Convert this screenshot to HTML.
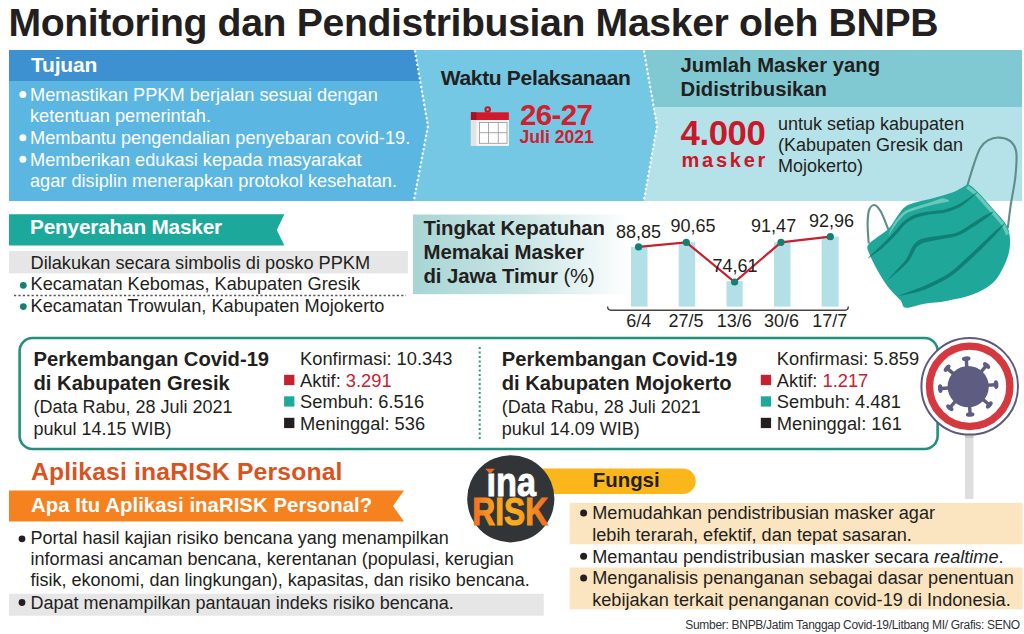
<!DOCTYPE html>
<html><head><meta charset="utf-8"><style>
html,body{margin:0;padding:0;}
body{width:1024px;height:634px;position:relative;overflow:hidden;background:#fff;font-family:"Liberation Sans",sans-serif;}
.t{position:absolute;white-space:nowrap;}
</style></head><body>
<svg width="1024" height="634" viewBox="0 0 1024 634" style="position:absolute;left:0;top:0"><polygon points="9,50 415,50 428,126 414,201 9,201" fill="#5cb6e2"/><polygon points="9,50 415,50 420.3,81 9,81" fill="#3d91d1"/><polygon points="415,50 644,50 657,126 644,201 414,201 428,126" fill="#74c8e3"/><polygon points="644,50 1022,50 1022,201 644,201 657,126" fill="#b5e1e8"/><polygon points="644,50 1022,50 1022,107 653.8,107" fill="#80c9d3"/><polyline points="415,51.5 428,126 414,200" fill="none" stroke="#fff" stroke-width="2.5" stroke-linecap="round" stroke-dasharray="0.01,4.5"/><polyline points="644,51.5 657,126 644,200" fill="none" stroke="#fff" stroke-width="2.5" stroke-linecap="round" stroke-dasharray="0.01,4.5"/><polygon points="9,214.3 284.4,214.3 276.8,230 284.4,245.5 9,245.5" fill="#1ca99b"/><rect x="9" y="251.1" width="398.9" height="22.3" fill="#e6e6e6"/><circle cx="23.3" cy="285.3" r="3.4" fill="#15806f"/><circle cx="23.3" cy="306.6" r="3.4" fill="#15806f"/><line x1="14" y1="295.5" x2="406" y2="295.5" stroke="#555" stroke-width="1.3" stroke-dasharray="2.2,2.2"/><defs><linearGradient id="tg" x1="0" x2="1" y1="0" y2="0"><stop offset="0" stop-color="#a7d5d4"/><stop offset="0.5" stop-color="#c8e5e4"/><stop offset="0.85" stop-color="#eef7f7"/><stop offset="1" stop-color="#ffffff"/></linearGradient></defs><rect x="413" y="214.5" width="217" height="79.7" fill="url(#tg)"/><rect x="631" y="246.9" width="16.5" height="59.70000000000002" fill="#b3dfe6"/><rect x="678.7" y="242.3" width="16.5" height="64.30000000000001" fill="#b3dfe6"/><rect x="726.5" y="281.2" width="16.200000000000045" height="25.400000000000034" fill="#b3dfe6"/><rect x="774" y="242.3" width="16.5" height="64.30000000000001" fill="#b3dfe6"/><rect x="821.7" y="236.7" width="17.0" height="69.90000000000003" fill="#b3dfe6"/><polyline points="638.6,246.9 686.3,242.3 734.6,282 781,242.3 830.3,236.7" fill="none" stroke="#c9202f" stroke-width="2.2"/><circle cx="638.6" cy="246.9" r="3.6" fill="#14806f"/><circle cx="686.3" cy="242.3" r="3.6" fill="#14806f"/><circle cx="734.6" cy="282" r="3.6" fill="#14806f"/><circle cx="781" cy="242.3" r="3.6" fill="#14806f"/><circle cx="830.3" cy="236.7" r="3.6" fill="#14806f"/><path d="M607.6,306.5 Q607.6,310.2 611,310.2 L845,310.2 Q848.3,310.2 848.3,306.5" fill="none" stroke="#444" stroke-width="1.4"/><rect x="19.6" y="338" width="918" height="111" rx="13" ry="13" fill="#fff" stroke="#21917e" stroke-width="2.6"/><line x1="479.7" y1="347" x2="479.7" y2="441" stroke="#2a9a86" stroke-width="2" stroke-dasharray="2,2.5"/><rect x="284.1" y="374.8" width="10.3" height="10.3" fill="#c8202f"/><rect x="284.1" y="396.3" width="10.3" height="10.3" fill="#1fa99b"/><rect x="284.1" y="417.8" width="10.3" height="10.3" fill="#231f20"/><rect x="760.8" y="374.8" width="10.3" height="10.3" fill="#c8202f"/><rect x="760.8" y="396.3" width="10.3" height="10.3" fill="#1fa99b"/><rect x="760.8" y="417.8" width="10.3" height="10.3" fill="#231f20"/><rect x="965" y="432" width="8.5" height="67" fill="#dedede"/><rect x="965" y="432" width="8.5" height="6" fill="#c8c8c8"/><circle cx="969.7" cy="386.3" r="48.3" fill="#fff" stroke="#5d5a7e" stroke-width="2"/><circle cx="969.7" cy="386.3" r="40.2" fill="none" stroke="#d5393f" stroke-width="7.4"/><circle cx="968.2" cy="386.6" r="20.6" fill="#5f5c82"/><line x1="967.0" y1="369.6" x2="966.3" y2="359.7" stroke="#5f5c82" stroke-width="3.4"/><ellipse cx="966.2" cy="358.7" rx="2.3" ry="4.3" transform="rotate(-94.0 966.2 358.7)" fill="#5f5c82"/><line x1="979.4" y1="373.8" x2="985.9" y2="366.2" stroke="#5f5c82" stroke-width="3.4"/><ellipse cx="986.6" cy="365.5" rx="2.3" ry="4.3" transform="rotate(-49.0 986.6 365.5)" fill="#5f5c82"/><line x1="985.2" y1="385.4" x2="995.1" y2="384.7" stroke="#5f5c82" stroke-width="3.4"/><ellipse cx="996.1" cy="384.6" rx="2.3" ry="4.3" transform="rotate(-4.0 996.1 384.6)" fill="#5f5c82"/><line x1="981.0" y1="397.8" x2="988.6" y2="404.3" stroke="#5f5c82" stroke-width="3.4"/><ellipse cx="989.3" cy="405.0" rx="2.3" ry="4.3" transform="rotate(41.0 989.3 405.0)" fill="#5f5c82"/><line x1="969.4" y1="403.6" x2="970.1" y2="413.5" stroke="#5f5c82" stroke-width="3.4"/><ellipse cx="970.2" cy="414.5" rx="2.3" ry="4.3" transform="rotate(86.0 970.2 414.5)" fill="#5f5c82"/><line x1="957.0" y1="399.4" x2="950.5" y2="407.0" stroke="#5f5c82" stroke-width="3.4"/><ellipse cx="949.8" cy="407.7" rx="2.3" ry="4.3" transform="rotate(131.0 949.8 407.7)" fill="#5f5c82"/><line x1="951.2" y1="387.8" x2="941.3" y2="388.5" stroke="#5f5c82" stroke-width="3.4"/><ellipse cx="940.3" cy="388.6" rx="2.3" ry="4.3" transform="rotate(176.0 940.3 388.6)" fill="#5f5c82"/><line x1="955.4" y1="375.4" x2="947.8" y2="368.9" stroke="#5f5c82" stroke-width="3.4"/><ellipse cx="947.1" cy="368.2" rx="2.3" ry="4.3" transform="rotate(221.0 947.1 368.2)" fill="#5f5c82"/><polygon points="9,490.4 404,490.4 393,506 404,521.5 9,521.5" fill="#f6811f"/><rect x="9" y="593.7" width="534.7" height="22" fill="#e6e6e6"/><circle cx="22" cy="538.8" r="3.4" fill="#231f20"/><circle cx="22" cy="602.5" r="3.4" fill="#231f20"/><path d="M505,468.6 L683,468.6 A12.7,12.7 0 0 1 683,494 L505,494 Z" fill="#fab61b"/><rect x="569.6" y="502.9" width="453" height="41.4" fill="#fbe4c0"/><rect x="569.6" y="567.5" width="453" height="41.8" fill="#fbe4c0"/><circle cx="583.6" cy="513" r="3.5" fill="#231f20"/><circle cx="583.6" cy="556.2" r="3.5" fill="#231f20"/><circle cx="583.6" cy="578" r="3.5" fill="#231f20"/><circle cx="510.8" cy="498.8" r="43.6" fill="#323537"/><circle cx="22.9" cy="94.5" r="3.5" fill="#fff"/><circle cx="22.9" cy="137.7" r="3.5" fill="#fff"/><circle cx="22.9" cy="159.3" r="3.5" fill="#fff"/><rect x="470.9" y="112.2" width="38" height="33.7" fill="#f7f7f7"/><rect x="470.9" y="119.8" width="5.5" height="26.1" fill="#e3e3e3"/><rect x="470.9" y="112.2" width="38" height="7.8" fill="#d0192b"/><rect x="470.9" y="112.2" width="5.5" height="7.8" fill="#a8121f"/><circle cx="487.7" cy="109.4" r="2.2" fill="none" stroke="#c4182a" stroke-width="2.1"/><rect x="479.4" y="122.5" width="27.6" height="20.8" fill="#fdfdfd" stroke="#999" stroke-width="0.85"/><line x1="488.5" y1="122.5" x2="488.5" y2="143.3" stroke="#999" stroke-width="0.85"/><line x1="498.3" y1="122.5" x2="498.3" y2="143.3" stroke="#999" stroke-width="0.85"/><line x1="479.4" y1="132.7" x2="507" y2="132.7" stroke="#999" stroke-width="0.85"/><path d="M888.3,229.3 C887.1,226.5 883.4,216.3 881.2,212.3 C879.0,208.3 877.0,205.7 875.0,205.2 C873.0,204.7 870.5,206.4 869.3,209.5 C868.1,212.6 867.7,218.0 867.6,223.7 C867.5,229.3 868.5,240.2 868.7,243.5" fill="none" stroke="#5f8d89" stroke-width="2.1"/><path d="M967.5,185.0 C968.7,181.2 972.5,168.4 974.6,162.2 C976.7,156.0 978.1,151.6 980.3,148.0 C982.5,144.4 984.8,142.1 987.9,140.4 C991.0,138.7 995.4,137.4 999.2,137.6 C1003.0,137.8 1007.8,138.9 1010.6,141.4 C1013.5,143.9 1015.5,146.7 1016.3,152.7 C1017.1,158.7 1016.2,168.5 1015.3,177.3 C1014.3,186.2 1011.9,197.4 1010.6,205.8 C1009.4,214.2 1008.3,224.3 1007.8,228.0" fill="none" stroke="#5f8d89" stroke-width="2.1"/><path d="M867.8,245.6 C869.1,242.6 874.3,239.7 877.9,236.8 C881.5,233.9 885.9,231.6 889.2,228.0 C892.6,224.4 895.3,218.9 898.0,215.3 C900.7,211.7 902.4,208.7 905.6,206.5 C908.8,204.3 912.1,203.6 917.0,202.1 C921.9,200.6 928.8,199.3 934.7,197.7 C940.6,196.1 947.2,194.5 952.3,192.6 C957.3,190.7 962.3,187.3 965.0,186.0 C967.7,184.7 966.3,183.4 968.5,184.5 C970.7,185.6 974.2,188.3 978.4,192.5 C982.6,196.7 989.2,204.4 993.6,209.5 C998.0,214.6 1002.3,218.9 1004.9,222.8 C1007.5,226.7 1008.5,228.6 1009.3,233.0 C1010.1,237.4 1010.4,243.7 1009.5,249.2 C1008.6,254.8 1006.7,260.6 1003.8,266.2 C1001.0,271.9 997.7,278.5 992.5,283.3 C987.3,288.0 980.3,291.7 972.6,294.6 C965.0,297.6 954.6,299.4 946.5,300.9 C938.5,302.4 931.2,302.6 924.4,303.7 C917.6,304.9 909.6,308.3 905.6,307.7 C901.7,307.1 903.2,303.4 900.5,300.3 C897.9,297.2 893.4,293.7 889.7,289.0 C886.0,284.2 881.7,277.6 878.4,271.9 C875.1,266.2 871.6,259.3 869.9,254.9 C868.1,250.5 866.5,248.6 867.8,245.6 Z" fill="#1fa79a"/><path d="M967.2,186.8 L977,194.6 L992.2,211.6 L1003.6,225 L1007.6,234.5" fill="none" stroke="#6ac7bc" stroke-width="3.4" stroke-linejoin="round"/><path d="M869.8,257.3 C871.7,256.0 880.4,249.8 884.0,246.7 C887.6,243.6 893.8,237.1 896.7,234.1 C899.5,231.1 903.0,226.2 905.4,224.1 C907.9,222.0 912.2,219.3 915.1,218.1 C918.0,216.9 923.3,215.7 927.3,215.0 C931.3,214.2 940.7,213.7 945.2,212.6 C949.6,211.4 956.6,209.0 960.7,206.5 C964.9,204.0 974.5,195.3 976.5,193.5 C978.6,191.7 978.4,191.5 976.1,192.9 C973.8,194.3 963.5,201.7 959.3,203.9 C955.0,206.1 948.8,208.4 944.4,209.4 C940.1,210.5 930.8,211.1 926.7,211.8 C922.6,212.6 917.0,213.8 913.9,215.1 C910.8,216.4 906.0,219.5 903.4,221.7 C900.7,223.9 897.2,228.9 894.3,231.9 C891.5,234.9 885.3,241.2 882.0,244.5 C878.6,247.8 870.9,255.0 869.2,256.7 C867.6,258.4 867.8,258.6 869.8,257.3 Z" fill="#117f73"/><path d="M890.0,278.5 C892.5,276.4 904.6,266.2 908.0,262.1 C911.5,258.1 914.2,250.5 916.0,248.0 C917.9,245.5 920.1,244.4 922.0,243.5 C923.8,242.6 926.9,241.9 930.0,241.3 C933.1,240.6 941.1,239.4 945.1,238.5 C949.2,237.6 955.4,237.0 960.7,234.4 C966.0,231.9 980.5,222.2 984.8,219.2 C989.0,216.3 991.7,213.6 992.7,212.7 C993.7,211.7 993.6,211.5 992.3,212.0 C991.0,212.5 987.4,213.9 983.0,216.6 C978.6,219.2 964.4,229.1 959.3,231.6 C954.2,234.0 948.5,234.4 944.5,235.1 C940.4,235.9 932.5,236.8 929.2,237.3 C926.0,237.9 922.2,238.4 920.0,239.5 C917.8,240.7 914.9,243.0 913.0,245.8 C911.0,248.5 908.6,255.9 905.5,260.1 C902.4,264.4 891.5,275.4 889.5,277.9 C887.4,280.3 887.5,280.6 890.0,278.5 Z" fill="#117f73"/><path d="M901.2,295.6 C904.4,294.9 918.4,292.0 925.0,289.4 C931.7,286.8 944.4,280.7 950.9,276.2 C957.4,271.8 968.2,261.5 973.8,256.2 C979.5,250.9 989.6,241.0 993.6,236.7 C997.7,232.5 1002.8,226.2 1004.1,224.5 C1005.5,222.8 1005.3,222.6 1003.6,224.0 C1001.9,225.3 995.7,230.5 991.4,234.5 C987.1,238.4 977.1,248.4 971.4,253.6 C965.7,258.7 955.3,268.9 948.9,273.3 C942.5,277.6 930.1,283.4 923.7,286.3 C917.3,289.1 904.0,293.6 901.0,294.8 C898.0,296.1 898.0,296.3 901.2,295.6 Z" fill="#117f73"/><path d="M888.6,235.5 C888.3,235.4 891.5,227.1 893.5,224.0 C895.5,220.9 900.7,214.3 903.8,212.0 C906.9,209.7 913.2,208.0 917.0,206.6 C920.8,205.2 928.6,202.9 932.0,201.8 C935.4,200.7 939.9,198.4 942.2,198.3 C944.5,198.2 950.3,200.3 949.0,201.2 C947.7,202.1 936.3,203.9 932.1,205.0 C927.9,206.1 921.1,208.0 917.5,209.2 C913.9,210.4 908.1,211.9 905.2,214.0 C902.3,216.1 897.7,222.1 895.5,225.0 C893.3,227.9 888.9,235.6 888.6,235.5 Z" fill="#6ac7bc"/><defs><linearGradient id="rg" x1="471" x2="549" y1="0" y2="0" gradientUnits="userSpaceOnUse"><stop offset="0" stop-color="#f06a22"/><stop offset="0.18" stop-color="#f58a22"/><stop offset="0.3" stop-color="#f7a21e"/><stop offset="0.55" stop-color="#f9b01c"/><stop offset="0.8" stop-color="#f38a22"/><stop offset="1" stop-color="#ee6a22"/></linearGradient></defs><text x="486.5" y="495.7" font-family="Liberation Sans" font-weight="700" font-size="41.5" fill="#fff" stroke="#fff" stroke-width="0.9" textLength="49.5" lengthAdjust="spacingAndGlyphs">&#305;na</text><polygon points="485.3,468.8 495,468.8 490.1,474" fill="#f06a22"/><text x="472.3" y="524.8" font-family="Liberation Sans" font-weight="700" font-size="38.5" fill="url(#rg)" stroke="url(#rg)" stroke-width="1" textLength="75.8" lengthAdjust="spacingAndGlyphs">RISK</text></svg>
<div class="t" style="left:8.40px;top:0.52px;font-size:39.2px;line-height:44px;font-weight:700;color:#231f20;letter-spacing:-0.37px;">Monitoring dan Pendistribusian Masker oleh BNPB</div><div class="t" style="left:31.00px;top:52.22px;font-size:21px;line-height:25.2px;font-weight:700;color:#fff;letter-spacing:-0.2px;">Tujuan</div><div class="t" style="left:30.00px;top:84.89px;font-size:18.2px;line-height:21.6px;font-weight:400;color:#fff;letter-spacing:0px;">Memastikan PPKM berjalan sesuai dengan<br>ketentuan pemerintah.<br>Membantu pengendalian penyebaran covid-19.<br>Memberikan edukasi kepada masyarakat<br>agar disiplin menerapkan protokol kesehatan.</div><div class="t" style="left:440.80px;top:65.02px;font-size:21px;line-height:25.2px;font-weight:700;color:#231f20;letter-spacing:-0.33px;">Waktu Pelaksanaan</div><div class="t" style="left:520.00px;top:96.98px;font-size:29.5px;line-height:35.4px;font-weight:700;color:#d0202e;letter-spacing:-0.65px;">26-27</div><div class="t" style="left:519.50px;top:127.14px;font-size:17.6px;line-height:21.12px;font-weight:700;color:#d0202e;letter-spacing:0px;">Juli 2021</div><div class="t" style="left:680.50px;top:52.92px;font-size:20.3px;line-height:24.5px;font-weight:700;color:#231f20;letter-spacing:0px;">Jumlah Masker yang<br>Didistribusikan</div><div class="t" style="left:680.50px;top:113.36px;font-size:34.7px;line-height:41.64px;font-weight:700;color:#c8182a;letter-spacing:-0.4px;">4.000</div><div class="t" style="left:681.50px;top:147.77px;font-size:20px;line-height:24.0px;font-weight:700;color:#c8182a;letter-spacing:2.75px;">masker</div><div class="t" style="left:778.00px;top:113.79px;font-size:18px;line-height:21.35px;font-weight:400;color:#231f20;letter-spacing:0px;">untuk setiap kabupaten<br>(Kabupaten Gresik dan<br>Mojokerto)</div><div class="t" style="left:30.00px;top:214.91px;font-size:20.8px;line-height:24.96px;font-weight:700;color:#fff;letter-spacing:-0.2px;">Penyerahan Masker</div><div class="t" style="left:30.50px;top:252.57px;font-size:18.2px;line-height:21.84px;font-weight:400;color:#231f20;letter-spacing:0px;">Dilakukan secara simbolis di posko PPKM</div><div class="t" style="left:30.50px;top:274.27px;font-size:18.2px;line-height:21.84px;font-weight:400;color:#231f20;letter-spacing:0px;">Kecamatan Kebomas, Kabupaten Gresik</div><div class="t" style="left:30.50px;top:295.67px;font-size:18.2px;line-height:21.84px;font-weight:400;color:#231f20;letter-spacing:0px;">Kecamatan Trowulan, Kabupaten Mojokerto</div><div class="t" style="left:423.50px;top:215.61px;font-size:20.4px;line-height:24.25px;font-weight:700;color:#231f20;letter-spacing:-0.1px;">Tingkat Kepatuhan<br>Memakai Masker<br>di Jawa Timur <span style="font-weight:400">(%)</span></div><div class="t" style="left:616.00px;top:222.36px;font-size:18px;line-height:21.6px;font-weight:400;color:#231f20;letter-spacing:0px;">88,85</div><div class="t" style="left:670.50px;top:216.06px;font-size:18px;line-height:21.6px;font-weight:400;color:#231f20;letter-spacing:0px;">90,65</div><div class="t" style="left:712.50px;top:255.86px;font-size:18px;line-height:21.6px;font-weight:400;color:#231f20;letter-spacing:0px;">74,61</div><div class="t" style="left:751.10px;top:216.06px;font-size:18px;line-height:21.6px;font-weight:400;color:#231f20;letter-spacing:0px;">91,47</div><div class="t" style="left:809.00px;top:210.96px;font-size:18px;line-height:21.6px;font-weight:400;color:#231f20;letter-spacing:0px;">92,96</div><div class="t" style="left:626.20px;top:310.76px;font-size:18px;line-height:21.6px;font-weight:400;color:#231f20;letter-spacing:0px;">6/4</div><div class="t" style="left:668.50px;top:310.76px;font-size:18px;line-height:21.6px;font-weight:400;color:#231f20;letter-spacing:0px;">27/5</div><div class="t" style="left:716.80px;top:310.76px;font-size:18px;line-height:21.6px;font-weight:400;color:#231f20;letter-spacing:0px;">13/6</div><div class="t" style="left:764.10px;top:310.76px;font-size:18px;line-height:21.6px;font-weight:400;color:#231f20;letter-spacing:0px;">30/6</div><div class="t" style="left:812.30px;top:310.76px;font-size:18px;line-height:21.6px;font-weight:400;color:#231f20;letter-spacing:0px;">17/7</div><div class="t" style="left:33.50px;top:347.40px;font-size:20.2px;line-height:24px;font-weight:700;color:#231f20;letter-spacing:0px;">Perkembangan Covid-19<br>di Kabupaten Gresik</div><div class="t" style="left:33.50px;top:396.96px;font-size:18px;line-height:21.6px;font-weight:400;color:#231f20;letter-spacing:0px;">(Data Rabu, 28 Juli 2021<br>pukul 14.15 WIB)</div><div class="t" style="left:300.10px;top:348.47px;font-size:18.3px;line-height:21.37px;font-weight:400;color:#231f20;letter-spacing:0px;">Konfirmasi: 10.343<br>Aktif: <span style="color:#c8202f">3.291</span><br>Sembuh: 6.516<br>Meninggal: 536</div><div class="t" style="left:501.70px;top:347.40px;font-size:20.2px;line-height:24px;font-weight:700;color:#231f20;letter-spacing:0px;">Perkembangan Covid-19<br>di Kabupaten Mojokerto</div><div class="t" style="left:501.70px;top:396.96px;font-size:18px;line-height:21.6px;font-weight:400;color:#231f20;letter-spacing:0px;">(Data Rabu, 28 Juli 2021<br>pukul 14.09 WIB)</div><div class="t" style="left:776.80px;top:348.47px;font-size:18.3px;line-height:21.37px;font-weight:400;color:#231f20;letter-spacing:0px;">Konfirmasi: 5.859<br>Aktif: <span style="color:#c8202f">1.217</span><br>Sembuh: 4.481<br>Meninggal: 161</div><div class="t" style="left:31.00px;top:456.62px;font-size:24.7px;line-height:29.64px;font-weight:700;color:#d9531e;letter-spacing:0.17px;">Aplikasi inaRISK Personal</div><div class="t" style="left:31.00px;top:492.99px;font-size:20.3px;line-height:24.36px;font-weight:700;color:#fff;letter-spacing:0.08px;">Apa Itu Aplikasi inaRISK Personal?</div><div class="t" style="left:30.50px;top:528.09px;font-size:18px;line-height:21.15px;font-weight:400;color:#231f20;letter-spacing:0px;">Portal hasil kajian risiko bencana yang menampilkan<br>informasi ancaman bencana, kerentanan (populasi, kerugian<br>fisik, ekonomi, dan lingkungan), kapasitas, dan risiko bencana.</div><div class="t" style="left:30.50px;top:593.36px;font-size:18px;line-height:21.6px;font-weight:400;color:#231f20;letter-spacing:0px;">Dapat menampilkan pantauan indeks risiko bencana.</div><div class="t" style="left:592.80px;top:467.89px;font-size:20.4px;line-height:24.48px;font-weight:700;color:#231f20;letter-spacing:0px;">Fungsi</div><div class="t" style="left:592.20px;top:503.44px;font-size:18.15px;line-height:21.55px;font-weight:400;color:#231f20;letter-spacing:0px;">Memudahkan pendistribusian masker agar<br>lebih terarah, efektif, dan tepat sasaran.<br>Memantau pendistribusian masker secara <i>realtime</i>.<br>Menganalisis penanganan sebagai dasar penentuan<br>kebijakan terkait penanganan covid-19 di Indonesia.</div><div class="t" style="left:685.30px;top:617.64px;font-size:12px;line-height:14.4px;font-weight:400;color:#333;letter-spacing:-0.3px;">Sumber: BNPB/Jatim Tanggap Covid-19/Litbang MI/ Grafis: SENO</div>
</body></html>
